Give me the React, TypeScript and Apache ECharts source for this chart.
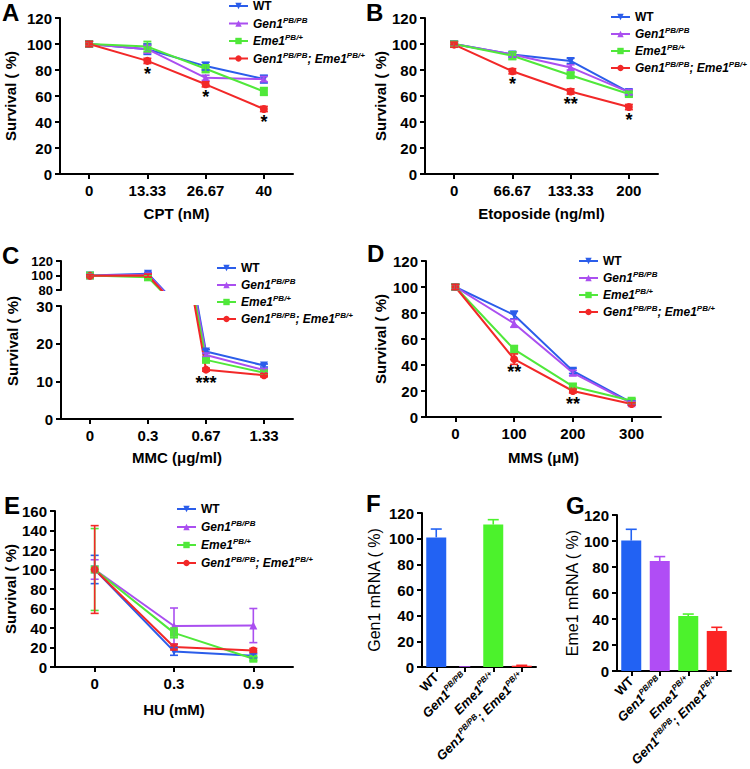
import React, { useEffect, useRef } from 'react';
import * as echarts from 'echarts';

const FONT = 'Arial, "Liberation Sans", Helvetica, sans-serif';

const groupKeys = ['WT', 'Gen1', 'Eme1', 'Gen1;Eme1'];
const lineColors = ['#2B5DEA', '#AA4FF0', '#50E83A', '#F22828'];
const barColors = ['#2262F3', '#B04DF5', '#4CF22C', '#FB2323'];
const markerShapes = ['triangle', 'triangle', 'rect', 'circle'];
const markerRotations = [180, 0, 0, 0];

// Panel A: CPT
const catsA = ['0', '13.33', '26.67', '40'];
const wtA = [100, 96, 83, 73];
const gen1A = [100, 96, 74, 73];
const eme1A = [100, 98, 81, 63.5];
const dkoA = [100, 87, 69, 50];
const errWtA = [2, 4, 3, 3];
const errGen1A = [2, 3, 2, 2];
const errEme1A = [2, 4, 3, 3];
const errDkoA = [2, 2, 2, 2];
const starsA = ['', '*', '*', '*'];

// Panel B: Etoposide
const catsB = ['0', '66.67', '133.33', '200'];
const wtB = [100, 92, 87, 63];
const gen1B = [100, 92, 82, 63];
const eme1B = [100, 91, 76, 61.5];
const dkoB = [99.5, 79, 63.5, 51.5];
const errWtB = [2, 2, 2, 2];
const errGen1B = [2, 2, 2, 2];
const errEme1B = [2, 3, 2, 2];
const errDkoB = [2, 2, 2, 2];
const starsB = ['', '*', '**', '*'];

// Panel C: MMC (broken axis)
const catsC = ['0', '0.3', '0.67', '1.33'];
const wtC = [100, 102.5, 17.9, 14.2];
const gen1C = [100, 101, 17.0, 13.0];
const eme1C = [100, 97.5, 15.7, 12.3];
const dkoC = [99.5, 100, 13.1, 11.6];
const errWtC = [1.5, 2, 0.5, 0.4];
const errGen1C = [1.5, 2, 0.5, 0.4];
const errEme1C = [1.5, 2, 0.5, 0.4];
const errDkoC = [1.5, 2, 0.4, 0.4];
const starsC = ['', '', '***', ''];
const upperTicksC = [80, 100, 120];

// Panel D: MMS
const catsD = ['0', '100', '200', '300'];
const wtD = [100, 78.5, 35.5, 11];
const gen1D = [100, 72, 34, 10.5];
const eme1D = [100, 52, 23.5, 12.5];
const dkoD = [100, 44.5, 20, 10];
const errWtD = [2, 3, 2, 1.5];
const errGen1D = [2, 3, 2, 1.5];
const errEme1D = [2, 3, 2, 1.5];
const errDkoD = [2, 4, 1.5, 1];
const starsD = ['', '**', '**', ''];

// Panel E: HU
const catsE = ['0', '0.3', '0.9'];
const wtE = [100, 16, 11.5];
const gen1E = [100, 42, 42.5];
const eme1E = [100, 35, 8.5];
const dkoE = [100, 20.5, 17];
const errWtE = [14.5, 4, 2];
const errGen1E = [10, 18.5, 17.5];
const errEme1E = [42, 5, 2];
const errDkoE = [45, 3, 2];

// Panels F, G: mRNA
const mrnaCats = ['WT', 'Gen1', 'Eme1', 'Gen1;Eme1'];
const gen1Mrna = [101, 0, 111, 1];
const gen1MrnaErr = [6.5, 0, 3.8, 0.3];
const eme1Mrna = [100.3, 84.6, 42.3, 30.8];
const eme1MrnaErr = [8.7, 3.4, 1.5, 2.8];

const richName = (k: string) =>
  k === 'WT'
    ? '{n|WT}'
    : k === 'Gen1'
    ? '{i|Gen1}{s|PB/PB}'
    : k === 'Eme1'
    ? '{i|Eme1}{s|PB/+}'
    : '{i|Gen1}{s|PB/PB}{i|; Eme1}{s|PB/+}';

const makeRich = (size: number, supSize: number, lh: number) => ({
  n: { fontFamily: FONT, fontWeight: 'bold', fontSize: size, color: '#000', lineHeight: lh },
  i: { fontFamily: FONT, fontWeight: 'bold', fontStyle: 'italic', fontSize: size, color: '#000', lineHeight: lh },
  s: {
    fontFamily: FONT,
    fontWeight: 'bold',
    fontStyle: 'italic',
    fontSize: supSize,
    lineHeight: supSize + 1,
    verticalAlign: 'top',
    color: '#000',
  },
});

const boldText = (size: number) => ({ fontFamily: FONT, fontWeight: 'bold', fontSize: size, color: '#000' });

function errSeries(axis: number, vals: number[], errs: number[], colorOf: (i: number) => string, cap: number, upOnly: boolean) {
  return {
    type: 'custom',
    xAxisIndex: axis,
    yAxisIndex: axis,
    clip: true,
    silent: true,
    z: 4,
    data: vals.map((v, i) => [i, upOnly ? v : v - errs[i], v + errs[i]]),
    encode: { x: 0, y: [1, 2] },
    renderItem: (params: any, api: any) => {
      const x = api.value(0);
      const lo = api.value(1);
      const hi = api.value(2);
      const a = api.coord([x, lo]);
      const b = api.coord([x, hi]);
      const style = { stroke: colorOf(params.dataIndex), lineWidth: 1.6, fill: null };
      const children: any[] = [
        { type: 'line', shape: { x1: a[0], y1: a[1], x2: b[0], y2: b[1] }, style },
        { type: 'line', shape: { x1: b[0] - cap / 2, y1: b[1], x2: b[0] + cap / 2, y2: b[1] }, style },
      ];
      if (!upOnly) {
        children.push({ type: 'line', shape: { x1: a[0] - cap / 2, y1: a[1], x2: a[0] + cap / 2, y2: a[1] }, style });
      }
      return { type: 'group', children };
    },
  };
}

function linePanel(axis: number, vals: number[][], errs: number[][], stars: string[] | null, cap: number) {
  const out: any[] = [];
  vals.forEach((v, k) => {
    out.push({
      type: 'line',
      name: groupKeys[k],
      xAxisIndex: axis,
      yAxisIndex: axis,
      symbol: markerShapes[k],
      symbolRotate: markerRotations[k],
      symbolSize: 8,
      clip: true,
      z: 3,
      emphasis: { disabled: true },
      lineStyle: { color: lineColors[k], width: 2 },
      itemStyle: { color: lineColors[k] },
      data: v.map((y, i) =>
        stars && k === 3 && stars[i]
          ? {
              value: y,
              label: {
                show: true,
                formatter: stars[i],
                position: 'bottom',
                distance: 0,
                ...boldText(18),
              },
            }
          : y
      ),
    });
    out.push(errSeries(axis, v, errs[k], () => lineColors[k], cap, false));
  });
  return out;
}

function xCat(gridIndex: number, data: string[], name: string, nameGap: number, extra: any = {}) {
  return {
    type: 'category',
    gridIndex,
    data,
    boundaryGap: true,
    name,
    nameLocation: 'middle',
    nameGap,
    nameTextStyle: boldText(15),
    axisLine: { show: true, onZero: false, lineStyle: { color: '#000', width: 2 } },
    axisTick: { show: true, alignWithLabel: true, interval: 0, length: 5, lineStyle: { color: '#000', width: 2 } },
    axisLabel: { ...boldText(15), margin: 9, interval: 0, hideOverlap: false },
    splitLine: { show: false },
    ...extra,
  };
}

function yVal(gridIndex: number, min: number, max: number, interval: number, name: string, nameGap: number, extra: any = {}) {
  return {
    type: 'value',
    gridIndex,
    position: 'left',
    min,
    max,
    interval,
    name,
    nameLocation: 'middle',
    nameGap,
    nameTextStyle: boldText(15),
    axisLine: { show: true, onZero: false, lineStyle: { color: '#000', width: 2 } },
    axisTick: { show: true, length: 5, lineStyle: { color: '#000', width: 2 } },
    axisLabel: { ...boldText(15), margin: 8, showMinLabel: true, showMaxLabel: true, hideOverlap: false },
    splitLine: { show: false },
    ...extra,
  };
}

function legendAt(left: number, top: number, gap: number) {
  return {
    left,
    top,
    orient: 'vertical',
    itemWidth: 19,
    itemHeight: 8,
    itemGap: gap,
    selectedMode: false,
    data: groupKeys,
    formatter: richName,
    textStyle: { ...boldText(12), rich: makeRich(12, 8, 15) },
  };
}

const mrnaLabel = {
  ...boldText(13),
  rotate: 45,
  interval: 0,
  hideOverlap: false,
  margin: 8,
  formatter: (v: string) => richName(v),
  rich: makeRich(13, 8, 15),
};

// upper segment of panel C: the middle tick label on one axis, the outer two on an overlaid axis
const upperLabel = (keep: (v: number) => boolean) => ({
  ...boldText(13),
  margin: 8,
  lineHeight: 12,
  showMinLabel: true,
  showMaxLabel: true,
  hideOverlap: false,
  formatter: (v: number) => (keep(v) ? String(v) : ''),
});

export default function App() {
  const ref = useRef<HTMLDivElement>(null);
  useEffect(() => {
    if (!ref.current) return;
    const chart = echarts.init(ref.current, undefined, { renderer: 'svg' });
    const letter = (t: string, x: number, y: number) => ({
      type: 'text',
      left: x,
      top: y,
      style: { text: t, font: `bold 24px ${FONT}`, fill: '#000' },
    });
    const midTick = upperTicksC[1];
    const option: any = {
      animation: false,
      backgroundColor: '#fff',
      grid: [
        { left: 60, top: 18, width: 233, height: 156 },
        { left: 425, top: 18, width: 233, height: 156 },
        { left: 61, top: 261, width: 232, height: 29 },
        { left: 61, top: 306, width: 232, height: 113 },
        { left: 426, top: 261, width: 235, height: 156 },
        { left: 55, top: 511, width: 238, height: 156 },
        { left: 422, top: 513, width: 114, height: 154 },
        { left: 617, top: 515, width: 114, height: 156 },
      ],
      xAxis: [
        xCat(0, catsA, 'CPT (nM)', 32),
        xCat(1, catsB, 'Etoposide (ng/ml)', 32),
        xCat(2, catsC, '', 10, { show: false }),
        xCat(3, catsC, 'MMC (\u03bcg/ml)', 31),
        xCat(4, catsD, 'MMS (\u03bcM)', 33),
        xCat(5, catsE, 'HU (mM)', 35),
        xCat(6, mrnaCats, '', 10, { axisLabel: mrnaLabel }),
        xCat(7, mrnaCats, '', 10, { axisLabel: mrnaLabel }),
      ],
      yAxis: [
        yVal(0, 0, 120, 20, 'Survival ( %)', 42),
        yVal(1, 0, 120, 20, 'Survival ( %)', 37),
        yVal(2, upperTicksC[0], upperTicksC[2], 20, '', 40, {
          axisLabel: upperLabel((v) => v === midTick),
        }),
        yVal(3, 0, 30, 10, '', 40),
        yVal(4, 0, 120, 20, 'Survival ( %)', 38),
        yVal(5, 0, 160, 20, 'Survival ( %)', 37),
        yVal(6, 0, 120, 20, 'Gen1 mRNA ( %)', 40, {
          nameTextStyle: { fontFamily: FONT, fontSize: 16, color: '#000' },
        }),
        yVal(7, 0, 120, 20, 'Eme1 mRNA ( %)', 29, {
          nameTextStyle: { fontFamily: FONT, fontSize: 16, color: '#000' },
        }),
        yVal(2, upperTicksC[0], upperTicksC[2], 20, '', 40, {
          position: 'left',
          offset: 0,
          axisLine: { show: false },
          axisTick: { show: false },
          axisLabel: upperLabel((v) => v !== midTick),
        }),
      ],
      legend: [
        legendAt(223, -5, 4),
        legendAt(605, 6, 3.5),
        legendAt(211, 257, 3.5),
        legendAt(573, 250, 3.5),
        legendAt(171, 498, 4.5),
      ],
      graphic: [
        letter('A', 2, 0),
        letter('B', 366, 0),
        letter('C', 2, 243),
        letter('D', 367, 241),
        letter('E', 4, 493),
        letter('F', 366, 491),
        letter('G', 566, 493),
        {
          type: 'text',
          x: 12,
          y: 341,
          rotation: Math.PI / 2,
          style: {
            text: 'Survival ( %)',
            font: `bold 15px ${FONT}`,
            fill: '#000',
            align: 'center',
            verticalAlign: 'middle',
            textAlign: 'center',
            textVerticalAlign: 'middle',
          },
        },
      ],
      series: [
        ...linePanel(0, [wtA, gen1A, eme1A, dkoA], [errWtA, errGen1A, errEme1A, errDkoA], starsA, 8),
        ...linePanel(1, [wtB, gen1B, eme1B, dkoB], [errWtB, errGen1B, errEme1B, errDkoB], starsB, 8),
        ...linePanel(2, [wtC, gen1C, eme1C, dkoC], [errWtC, errGen1C, errEme1C, errDkoC], null, 8),
        ...linePanel(3, [wtC, gen1C, eme1C, dkoC], [errWtC, errGen1C, errEme1C, errDkoC], starsC, 8),
        ...linePanel(4, [wtD, gen1D, eme1D, dkoD], [errWtD, errGen1D, errEme1D, errDkoD], starsD, 8),
        ...linePanel(5, [wtE, gen1E, eme1E, dkoE], [errWtE, errGen1E, errEme1E, errDkoE], null, 8),
        {
          type: 'bar',
          name: 'Gen1 mRNA',
          xAxisIndex: 6,
          yAxisIndex: 6,
          barWidth: 20,
          emphasis: { disabled: true },
          data: gen1Mrna.map((v, i) => ({ value: v, itemStyle: { color: barColors[i] } })),
        },
        errSeries(6, gen1Mrna, gen1MrnaErr, (i) => barColors[i], 11, true),
        {
          type: 'bar',
          name: 'Eme1 mRNA',
          xAxisIndex: 7,
          yAxisIndex: 7,
          barWidth: 20,
          emphasis: { disabled: true },
          data: eme1Mrna.map((v, i) => ({ value: v, itemStyle: { color: barColors[i] } })),
        },
        errSeries(7, eme1Mrna, eme1MrnaErr, (i) => barColors[i], 11, true),
      ],
    };
    chart.setOption(option);
    return () => chart.dispose();
  }, []);
  return (
    <div
      ref={ref}
      style={{ position: 'fixed', left: 0, top: 0, width: 750, height: 769, background: '#fff' }}
    />
  );
}
